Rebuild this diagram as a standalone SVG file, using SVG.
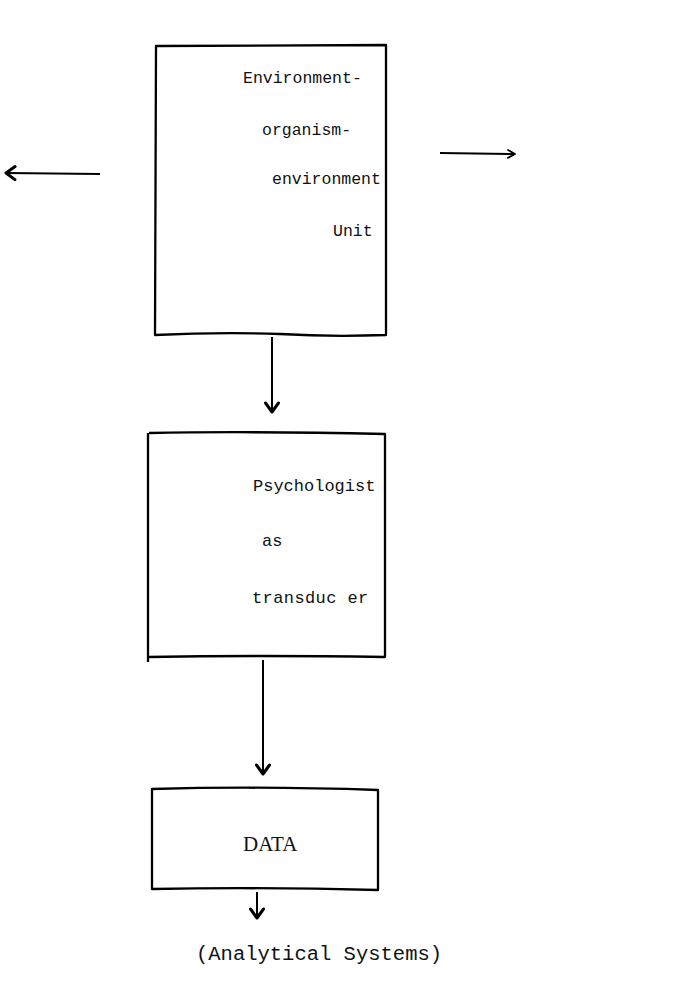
<svg xmlns="http://www.w3.org/2000/svg" width="683" height="1004" viewBox="0 0 683 1004">
<style>
.box{fill:none;stroke:#000;stroke-width:2.3;stroke-linejoin:round}
.conn{fill:none;stroke:#000;stroke-width:2}
.t{font-family:"Liberation Mono","Courier New",monospace;font-size:17px;fill:#111}
.s{font-family:"Liberation Serif","Times New Roman",serif;font-size:21px;fill:#111}
</style>
<defs>
<marker id="ah" viewBox="0 0 14 16" refX="12" refY="8" markerWidth="14" markerHeight="16" markerUnits="userSpaceOnUse" orient="auto">
<polyline points="3,1.5 12,8 3,14.5" fill="none" stroke="#000" stroke-width="3" stroke-linecap="round" stroke-linejoin="round"/>
</marker>
<marker id="ahs" viewBox="0 0 12 12" refX="10" refY="6" markerWidth="12" markerHeight="12" markerUnits="userSpaceOnUse" orient="auto">
<polyline points="3,2 10,6 3,10" fill="none" stroke="#000" stroke-width="1.8" stroke-linecap="round" stroke-linejoin="round"/>
</marker>
</defs>
<rect width="683" height="1004" fill="#fff"/>
<g id="node-eoe">
<path class="box" d="M156,46 L386,45 L386,335 Q330,337 280,334 Q220,332 155,335 Z"/>
<text class="t" x="243" y="83" style="font-size:16.5px">Environment-</text>
<text class="t" x="262" y="135" style="font-size:16.5px">organism-</text>
<text class="t" x="272" y="184" style="font-size:16.5px">environment</text>
<text class="t" x="333" y="236" style="font-size:16.5px">Unit</text>
</g>
<g id="node-psych">
<path class="box" d="M149,433 Q250,431 385,434 L385,657 Q260,655 148,657 L148,433"/>
<line class="box" x1="148" y1="657" x2="148" y2="662"/>
<text class="t" x="253" y="491">Psychologist</text>
<text class="t" x="262" y="546">as</text>
<text class="t" x="252" y="603" style="letter-spacing:0.4px">transduc er</text>
</g>
<g id="node-data">
<path class="box" d="M152,789 Q260,786 378,790 L378,890 Q260,887 152,889 Z"/>
<text class="s" x="243" y="851">DATA</text>
</g>
<g id="node-analytical">
<text class="t" x="196" y="960" style="font-size:20.5px">(Analytical Systems)</text>
</g>
<g id="connectors">
<line class="conn" x1="100" y1="174" x2="6" y2="173" marker-end="url(#ah)"/>
<line class="conn" x1="440" y1="153" x2="515" y2="154" stroke-width="1.6" marker-end="url(#ahs)"/>
<line class="conn" x1="272" y1="337" x2="272" y2="412" marker-end="url(#ah)"/>
<line class="conn" x1="263" y1="660" x2="263" y2="774" marker-end="url(#ah)"/>
<line class="conn" x1="257" y1="892" x2="257" y2="918" marker-end="url(#ah)"/>
</g>
</svg>
